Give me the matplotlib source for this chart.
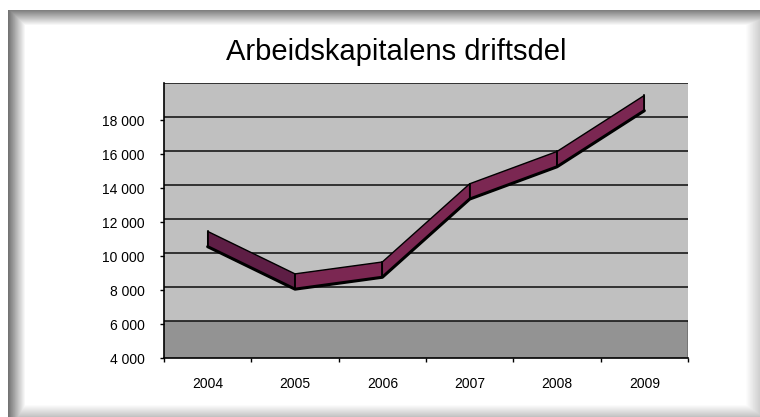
import numpy as np
import matplotlib
matplotlib.use("Agg")
from matplotlib import pyplot as plt
from matplotlib.patches import Polygon

plt.rcParams['font.family'] = ['Liberation Sans', 'DejaVu Sans']

# data
years = ['2004', '2005', '2006', '2007', '2008', '2009']
values = [11000, 8500, 9200, 13800, 15700, 19000]
y_ticks = [4000, 6000, 8000, 10000, 12000, 14000, 16000, 18000]
y_labels = ['4 000', '6 000', '8 000', '10 000', '12 000', '14 000', '16 000', '18 000']

W, H = 760, 417
fig = plt.figure(figsize=(W / 100, H / 100), dpi=100)

# picture-frame shadow in the background
xx = np.arange(W)[None, :].repeat(H, 0).astype(float)
yy = np.arange(H)[:, None].repeat(W, 1).astype(float)
inside = (xx >= 8) & (yy >= 10)
shade = np.zeros((H, W))
shade = np.maximum(shade, np.clip(1 - (xx - 8) / 17, 0, 1) * 0.55)
shade = np.maximum(shade, np.clip(1 - (yy - 10) / 15, 0, 1) * 0.5)
shade = np.maximum(shade, np.clip((xx - 745) / 15, 0, 1) * 0.2)
shade = np.maximum(shade, np.clip((yy - 404) / 13, 0, 1) * 0.25)
img = np.where(inside, 1 - shade, 1.0)
bg = fig.add_axes([0, 0, 1, 1])
bg.imshow(img, cmap='gray', vmin=0, vmax=1, aspect='auto', interpolation='bilinear')
bg.axis('off')

ax = fig.add_axes([164 / W, 1 - 358 / H, 524 / W, 275 / H])
ax.set_facecolor('#C0C0C0')
ax.set_xlim(-0.5, 5.5)
ax.set_ylim(4000, 20180)

off = 200  # back-wall offset
ax.axhspan(4000, 6000 + off, color='#939393', zorder=1)
for v in y_ticks[1:] + [20000]:
    ax.axhline(v + off, color='#1a1a1a', lw=1.2, zorder=2)
ax.plot([5.5, 5.5], [4000, 6000 + off], color='black', lw=1, zorder=2)

# ribbon
h = 450
x = np.arange(len(values))
for i in range(len(values) - 1):
    v0, v1 = values[i], values[i + 1]
    col = '#5E1E45' if v1 < v0 else '#7B2752'
    poly = Polygon([(x[i], v0 + h), (x[i + 1], v1 + h), (x[i + 1], v1 - h), (x[i], v0 - h)],
                   closed=True, facecolor=col, edgecolor='black', lw=1, zorder=4)
    ax.add_patch(poly)
ax.plot(x, np.array(values) - h, color='black', lw=2.2, zorder=5, solid_capstyle='round')
for i in range(len(values)):
    ax.plot([x[i], x[i]], [values[i] - h, values[i] + h], color='black', lw=1.2, zorder=5)

for s in ['top', 'right']:
    ax.spines[s].set_visible(False)
ax.spines['left'].set_color('black')
ax.spines['bottom'].set_color('black')
ax.spines['left'].set_linewidth(1.2)
ax.spines['bottom'].set_linewidth(1.2)

ax.set_yticks(y_ticks)
ax.set_yticklabels(y_labels)
ax.set_xticks(np.arange(-0.5, 6, 1))
ax.set_xticklabels([])
ax.set_xticks(x, minor=True)
ax.set_xticklabels(years, minor=True)
ax.tick_params(axis='x', which='minor', length=0, pad=14, labelsize=10)
ax.tick_params(axis='x', which='major', length=3, width=1, direction='out')
ax.tick_params(axis='y', length=3, width=1, pad=11, labelsize=10)

fig.text(396 / W, 1 - 52 / H, 'Arbeidskapitalens driftsdel', fontsize=21,
         ha='center', va='center', color='black')

fig.savefig('out.png', dpi=100)
